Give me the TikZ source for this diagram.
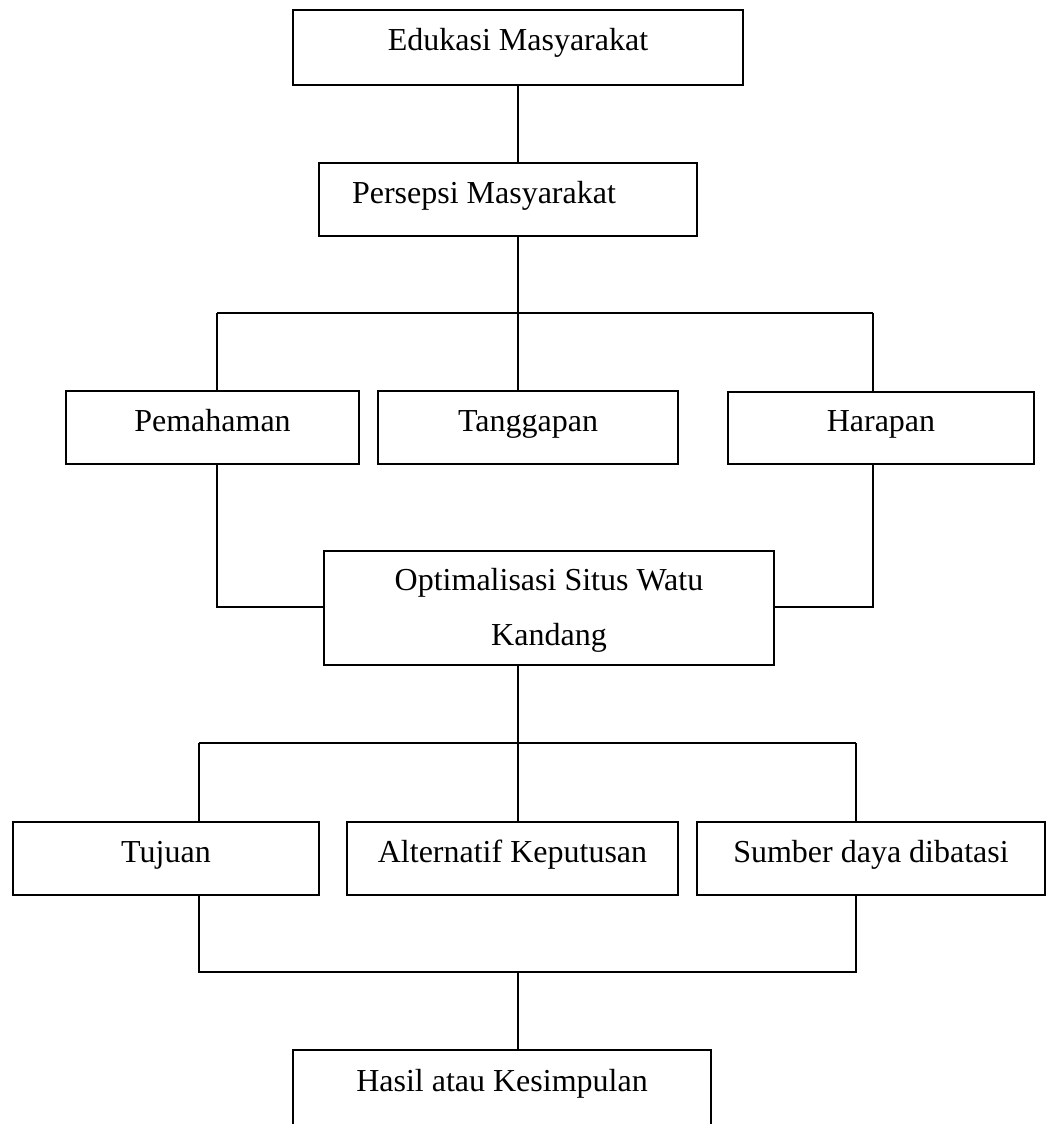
\documentclass[tikz,border=0pt]{standalone}
\usepackage{fontspec}
\setmainfont{Liberation Serif}
\begin{document}
\begin{tikzpicture}[x=1pt,y=-1pt,
  boxbase/.style={draw, line width=1.8pt, rectangle, inner sep=0pt,
    font=\fontsize{32}{55}\selectfont},
  box/.style={boxbase, text height=24pt, text depth=17pt},
  link/.style={line width=1.8pt}]
\useasboundingbox (0,0) rectangle (1047,1124);
\clip (0,0) rectangle (1047,1124);
% boxes
\node[box, minimum width=450pt, minimum height=75pt] (edu) at (518,47.5) {Edukasi Masyarakat};
\node[box, minimum width=378pt, minimum height=73pt] (pers) at (508,199.5) {\makebox[312pt][l]{Persepsi Masyarakat}};
\node[box, minimum width=293pt, minimum height=73pt] (pem) at (212.5,427.5) {Pemahaman};
\node[box, minimum width=300pt, minimum height=73pt] (tan) at (528,427.5) {Tanggapan};
\node[box, minimum width=306pt, minimum height=72pt] (har) at (881,428) {Harapan};
\node[boxbase, minimum width=450pt, minimum height=114pt, align=center] (opt) at (549,608) {\rule{0pt}{27pt}Optimalisasi Situs Watu\\Kandang};
\node[box, minimum width=306pt, minimum height=73pt] (tuj) at (166,858.5) {Tujuan};
\node[box, minimum width=331pt, minimum height=73pt] (alt) at (512.5,858.5) {Alternatif Keputusan};
\node[box, minimum width=348pt, minimum height=73pt] (sum) at (871,858.5) {Sumber daya dibatasi};
\node[box, minimum width=418pt, minimum height=90pt, text height=16pt, text depth=24pt] (has) at (502,1095) {Hasil atau Kesimpulan};
% bus coordinates
\coordinate (b1L) at (217,313);
\coordinate (b1M) at (518,313);
\coordinate (b1R) at (873,313);
\coordinate (b2L) at (199,743);
\coordinate (b2M) at (518,743);
\coordinate (b2R) at (856,743);
\coordinate (b3L) at (199,972);
\coordinate (b3M) at (518,972);
\coordinate (b3R) at (856,972);
\coordinate (jL) at (217,607);
\coordinate (jR) at (873,607);
% connectors
\draw[link] (edu.south) -- (edu.south |- pers.north);
\draw[link] (b1M |- pers.south) -- (b1M);
\draw[link] (b1L) -- (b1R);
\draw[link] (b1L) -- (b1L |- pem.north);
\draw[link] (b1M) -- (b1M |- tan.north);
\draw[link] (b1R) -- (b1R |- har.north);
\draw[link] (b1L |- pem.south) -- (jL) -- (jL -| opt.west);
\draw[link] (b1R |- har.south) -- (jR) -- (jR -| opt.east);
\draw[link] (b2M |- opt.south) -- (b2M);
\draw[link] (b2L) -- (b2R);
\draw[link] (b2L) -- (b2L |- tuj.north);
\draw[link] (b2M) -- (b2M |- alt.north);
\draw[link] (b2R) -- (b2R |- sum.north);
\draw[link] (b3L |- tuj.south) -- (b3L) -- (b3R) -- (b3R |- sum.south);
\draw[link] (b3M) -- (b3M |- has.north);
\end{tikzpicture}
\end{document}
